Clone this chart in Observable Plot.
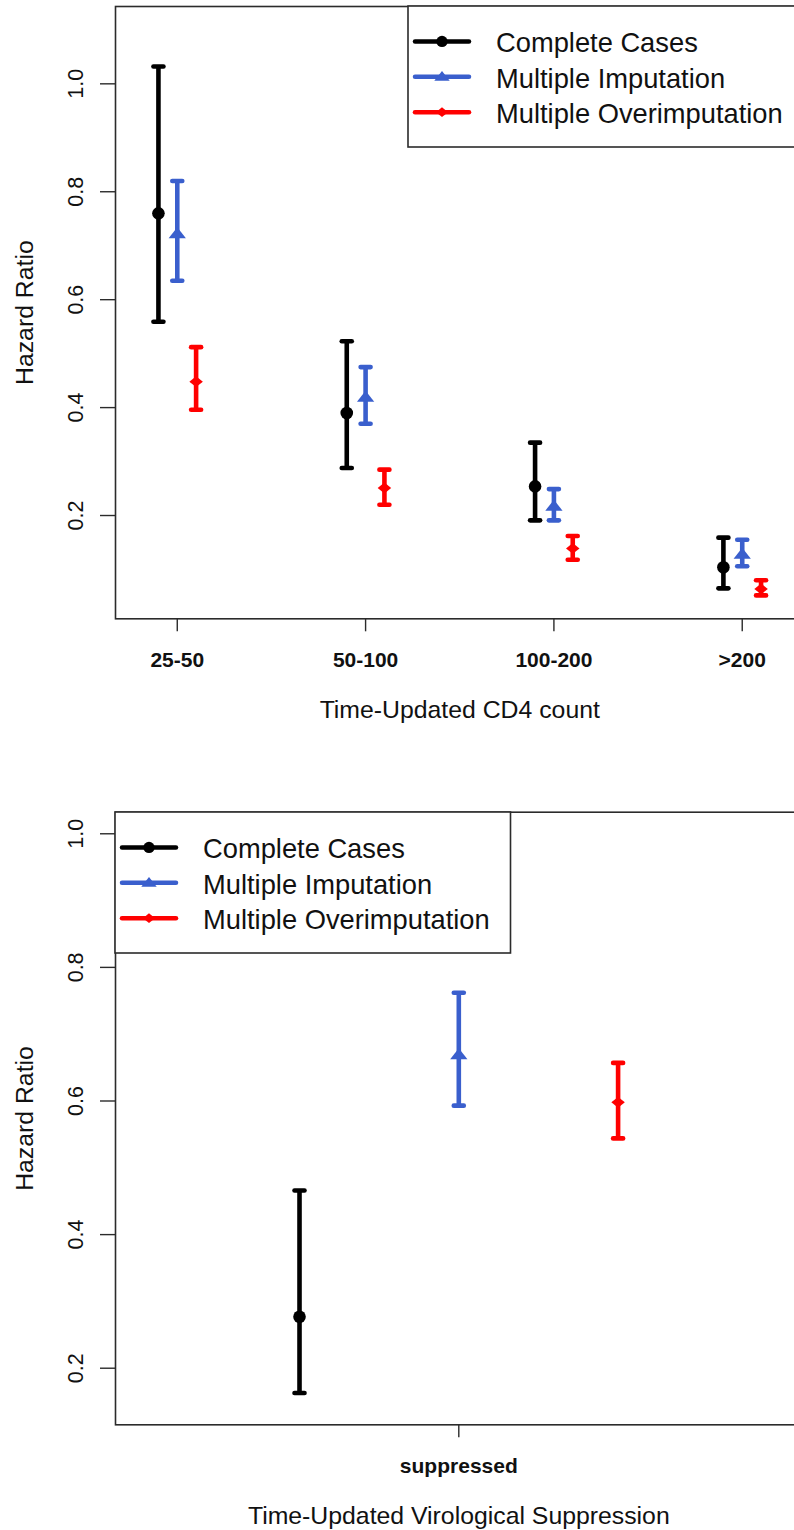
<!DOCTYPE html>
<html>
<head>
<meta charset="utf-8">
<script src="https://cdn.jsdelivr.net/npm/d3@7"></script>
<script src="https://cdn.jsdelivr.net/npm/@observablehq/plot@0.6"></script>
<style>
  html, body { margin: 0; padding: 0; background: #fff; overflow: hidden; }
  .panel { position: relative; width: 794px; height: 765px; overflow: visible; }
  .panel > svg { display: block; }
  .legend { position: absolute; overflow: visible; }
</style>
</head>
<body>
<div id="top" class="panel"></div>
<div id="bottom" class="panel"></div>
<script>
// ---------------- data ----------------
const seriesNames = ["Complete Cases", "Multiple Imputation", "Multiple Overimputation"];
const seriesColors = ["#000000", "#3a5fcd", "#ff0000"];

// Panel 1: Time-Updated CD4 count
const cd4Categories = ["25-50", "50-100", "100-200", ">200"];
const cd4CompleteEst = [0.760, 0.390, 0.254, 0.104];
const cd4CompleteLo  = [0.559, 0.288, 0.191, 0.065];
const cd4CompleteHi  = [1.032, 0.523, 0.335, 0.159];
const cd4ImputeEst   = [0.722, 0.419, 0.217, 0.128];
const cd4ImputeLo    = [0.635, 0.370, 0.191, 0.106];
const cd4ImputeHi    = [0.820, 0.475, 0.249, 0.155];
const cd4OverEst     = [0.448, 0.251, 0.139, 0.064];
const cd4OverLo      = [0.396, 0.220, 0.118, 0.052];
const cd4OverHi      = [0.512, 0.285, 0.162, 0.080];

// Panel 2: Time-Updated Virological Suppression
const vsCategories = ["suppressed"];
const vsCompleteEst = [0.277];
const vsCompleteLo  = [0.163];
const vsCompleteHi  = [0.466];
const vsImputeEst   = [0.669];
const vsImputeLo    = [0.593];
const vsImputeHi    = [0.762];
const vsOverEst     = [0.598];
const vsOverLo      = [0.544];
const vsOverHi      = [0.657];

const yTicks = [0.2, 0.4, 0.6, 0.8, 1.0];
const yTitle = "Hazard Ratio";
const cd4Title = "Time-Updated CD4 count";
const vsTitle = "Time-Updated Virological Suppression";

// axis limits (as in the original figure)
const cd4YDomain = [0.0086, 1.1433];
const vsYDomain = [0.1153, 1.0323];

// ---------------- symbols ----------------
const capSymbol = {
  draw(ctx, size) { const r = Math.sqrt(size / Math.PI); ctx.moveTo(-r, 0); ctx.lineTo(r, 0); }
};
const triSymbol = {
  draw(ctx, size) {
    const r = Math.sqrt(size / Math.PI), w = r * 1.35, h = r * 1.7;
    ctx.moveTo(0, -h * 0.6); ctx.lineTo(w, h * 0.4); ctx.lineTo(-w, h * 0.4); ctx.closePath();
  }
};
const diaSymbol = {
  draw(ctx, size) {
    const r = Math.sqrt(size / Math.PI), w = r * 1.25;
    ctx.moveTo(0, -r); ctx.lineTo(w, 0); ctx.lineTo(0, r); ctx.lineTo(-w, 0); ctx.closePath();
  }
};
const seriesSymbols = [d3.symbolCircle, triSymbol, diaSymbol];
const seriesR = [6.3, 6.4, 5.4];

const FONT = "'Liberation Sans', Arial, Helvetica, sans-serif";
const AXIS_COLOR = "#2b2b2b";

function buildRows(nCat, est, lo, hi, offsets) {
  const rows = [];
  for (let s = 0; s < 3; s++) {
    for (let c = 0; c < nCat; c++) {
      rows.push({s, x: c + 1 + offsets[s], est: est[s][c], lo: lo[s][c], hi: hi[s][c], color: seriesColors[s]});
    }
  }
  return rows;
}

function drawLegend(container, left, top) {
  const W = 395.5, H = 141;
  const svg = d3.create("svg")
    .attr("class", "legend")
    .attr("width", W).attr("height", H)
    .style("left", left + "px").style("top", top + "px");
  svg.append("rect").attr("x", 0).attr("y", 0).attr("width", W).attr("height", H)
    .attr("fill", "#fff").attr("stroke", AXIS_COLOR).attr("stroke-width", 1.6);
  seriesNames.forEach((name, i) => {
    const y = 35.4 + i * 35.4;
    const g = svg.append("g");
    g.append("line").attr("x1", 7).attr("x2", 61).attr("y1", y).attr("y2", y)
      .attr("stroke", seriesColors[i]).attr("stroke-width", 4.5).attr("stroke-linecap", "round");
    g.append("path")
      .attr("d", d3.symbol(seriesSymbols[i], Math.PI * seriesR[i] * seriesR[i] * 0.8)())
      .attr("transform", `translate(34,${y})`)
      .attr("fill", seriesColors[i]);
    g.append("text").attr("x", 88).attr("y", y + 10.8)
      .attr("font-family", FONT).attr("font-size", 27.3).attr("fill", "#111")
      .text(name);
  });
  container.appendChild(svg.node());
}

function drawPanel(el, opts) {
  const {rows, xDomain, yDomain, categories, title, marginTop, marginBottom, marginRight} = opts;
  const xTicks = categories.map((_, i) => i + 1);
  const marks = [
    Plot.frame({stroke: AXIS_COLOR, strokeWidth: 1.6}),
    Plot.axisY({ticks: yTicks, tickSize: 15, tickFormat: () => "", label: null, stroke: AXIS_COLOR, strokeWidth: 1.4}),
    Plot.text(yTicks, {y: d => d, text: d => d.toFixed(1), frameAnchor: "left", dx: -39.5, rotate: -90,
      textAnchor: "middle", lineAnchor: "middle", fontSize: 21.5, fill: "#111"}),
    Plot.axisX({ticks: xTicks, tickSize: 13, tickFormat: () => "", label: null, stroke: AXIS_COLOR, strokeWidth: 1.4}),
    Plot.text(xTicks, {x: d => d, text: (d, i) => categories[i], frameAnchor: "bottom", dy: 48.5,
      lineAnchor: "bottom", fontSize: 21, fontWeight: "bold", fill: "#111"}),
    Plot.text([title], {text: d => d, frameAnchor: "bottom", dy: 99, lineAnchor: "bottom", fontSize: 24.8, fill: "#111"}),
    Plot.text([yTitle], {text: d => d, frameAnchor: "left", dx: -90, rotate: -90, textAnchor: "middle",
      lineAnchor: "middle", fontSize: 24.8, fill: "#111"}),
    Plot.ruleX(rows, {x: "x", y1: "lo", y2: "hi", stroke: "color", strokeWidth: 4.6}),
    Plot.dot(rows, {x: "x", y: "lo", symbol: capSymbol, r: 5, stroke: "color", strokeWidth: 4.6, fill: "none", strokeLinecap: "round"}),
    Plot.dot(rows, {x: "x", y: "hi", symbol: capSymbol, r: 5, stroke: "color", strokeWidth: 4.6, fill: "none", strokeLinecap: "round"})
  ];
  for (let s = 0; s < 3; s++) {
    marks.push(Plot.dot(rows.filter(d => d.s === s), {x: "x", y: "est", symbol: seriesSymbols[s], r: seriesR[s],
      fill: seriesColors[s], stroke: "none"}));
  }
  const plot = Plot.plot({
    width: 794, height: 765,
    marginLeft: 115, marginRight, marginTop, marginBottom,
    x: {domain: xDomain},
    y: {domain: yDomain},
    color: {type: "identity"},
    style: {fontFamily: FONT, background: "transparent", color: "#111"},
    marks
  });
  el.appendChild(plot);
  return plot;
}

// ---------------- panel 1 ----------------
const cd4Rows = buildRows(cd4Categories.length,
  [cd4CompleteEst, cd4ImputeEst, cd4OverEst],
  [cd4CompleteLo, cd4ImputeLo, cd4OverLo],
  [cd4CompleteHi, cd4ImputeHi, cd4OverHi],
  [-0.1, 0, 0.1]);
const topEl = document.getElementById("top");
const p1 = drawPanel(topEl, {
  rows: cd4Rows, xDomain: [0.672, 4.328], yDomain: cd4YDomain, categories: cd4Categories,
  title: cd4Title, marginTop: 6, marginBottom: 146.7, marginRight: -9.5
});
{
  const xr = p1.scale("x").range, yr = p1.scale("y").range;
  drawLegend(topEl, Math.max(...xr) - 395.5, Math.min(...yr));
}

// ---------------- panel 2 ----------------
const vsRows = buildRows(vsCategories.length,
  [vsCompleteEst, vsImputeEst, vsOverEst],
  [vsCompleteLo, vsImputeLo, vsOverLo],
  [vsCompleteHi, vsImputeHi, vsOverHi],
  [-0.232, 0, 0.232]);
const botEl = document.getElementById("bottom");
const p2 = drawPanel(botEl, {
  rows: vsRows, xDomain: [0.5, 1.5], yDomain: vsYDomain, categories: vsCategories,
  title: vsTitle, marginTop: 46.7, marginBottom: 105.7, marginRight: -7.6
});
{
  const xr = p2.scale("x").range, yr = p2.scale("y").range;
  drawLegend(botEl, Math.min(...xr), Math.min(...yr));
}
</script>
</body>
</html>
